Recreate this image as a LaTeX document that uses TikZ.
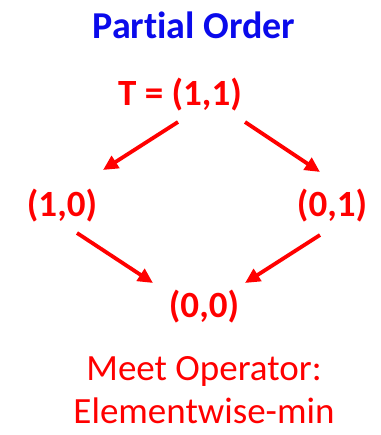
\documentclass[tikz,border=0pt]{standalone}
\usepackage{fontspec}
\setmainfont[Ligatures=NoCommon]{Carlito}
\usetikzlibrary{positioning, arrows.meta}
\definecolor{ordred}{RGB}{255,0,0}
\definecolor{ordblue}{RGB}{10,10,235}

\begin{document}
\begin{tikzpicture}[
  x=1pt, y=1pt,
  >={Triangle[length=15pt, width=14pt]},
  every node/.style={inner sep=0pt, font=\fontsize{37}{43}\selectfont},
  elem/.style  = {font=\fontsize{37}{43}\selectfont\bfseries, text=ordred},
  title/.style = {font=\fontsize{38}{43}\selectfont\bfseries, text=ordblue},
  note/.style  = {align=center, text=ordred},
  arr/.style   = {->, line width=3.8pt, ordred},
]
  \useasboundingbox (0,0) rectangle (380,435);
  \node[title] (head) at (194,410) {Partial Order};
  \node[elem]  (top)  at (180,340) {T = (1,1)};
  \node[elem]  (ten)  at (62,229)  {(1,0)};
  \node[elem]  (one)  at (332,229) {(0,1)};
  \node[elem]  (bot)  at (204,128) {(0,0)};
  \node[note]  (meet) at (204,45) {Meet Operator:\\Elementwise-min};
  \draw[arr] ([shift={(-2,-27)}]top.center) -- ([shift={(41,36)}]ten.center);
  \draw[arr] ([shift={(65,-27)}]top.center) -- ([shift={(-12,34)}]one.center);
  \draw[arr] ([shift={(15,-27)}]ten.center) -- ([shift={(-51,24)}]bot.center);
  \draw[arr] ([shift={(-12,-29)}]one.center) -- ([shift={(41,24)}]bot.center);
\end{tikzpicture}
\end{document}
